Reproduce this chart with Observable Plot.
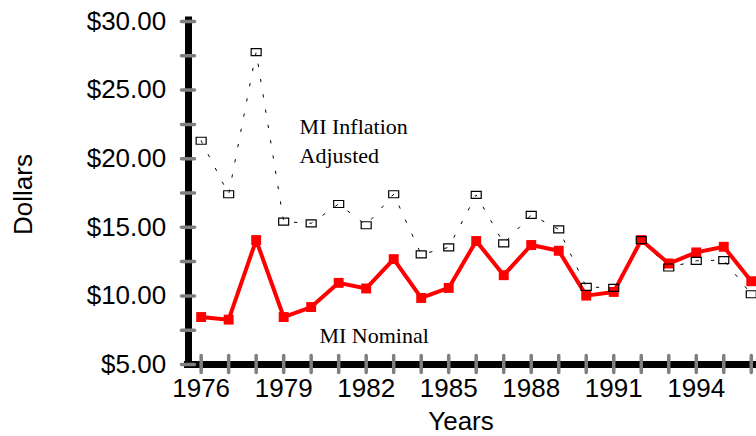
<!DOCTYPE html>
<html>
<head>
<meta charset="utf-8">
<script src="https://cdn.jsdelivr.net/npm/d3@7"></script>
<script src="https://cdn.jsdelivr.net/npm/@observablehq/plot@0.6"></script>
<style>
  html, body { margin: 0; padding: 0; background: #fff; }
  #chart svg { display: block; }
</style>
</head>
<body>
<div id="chart"></div>
<script>
// ---- data ----
const years = [1976, 1977, 1978, 1979, 1980, 1981, 1982, 1983, 1984, 1985, 1986,
               1987, 1988, 1989, 1990, 1991, 1992, 1993, 1994, 1995, 1996];
const nominal = [8.46, 8.27, 14.07, 8.46, 9.19, 10.95, 10.54, 12.68, 9.85, 10.58, 14.0,
                 11.51, 13.71, 13.29, 10.02, 10.29, 14.07, 12.36, 13.17, 13.58, 11.07];
const adjusted = [21.31, 17.41, 27.77, 15.41, 15.29, 16.7, 15.15, 17.41, 13.02, 13.54, 17.36,
                  13.83, 15.9, 14.85, 10.66, 10.58, 14.07, 12.07, 12.56, 12.61, 10.12];
const xTickLabels = [1976, 1979, 1982, 1985, 1988, 1991, 1994];
const yTickLabels = [5, 10, 15, 20, 25, 30];
const yMinorTicks = [5, 7.5, 10, 12.5, 15, 17.5, 20, 22.5, 25, 27.5, 30];
const seriesNames = ["MI Nominal", "MI Inflation", "Adjusted"];
const axisTitles = {x: "Years", y: "Dollars"};

// ---- build table ----
const rows = years.map((year, i) => ({year, nominal: nominal[i], adjusted: adjusted[i]}));

const xDomain = [1975.54, 1996.19];
const yDomain = [5, 30];
const gray = "#7f7f7f";
const serif = "'Times New Roman', 'Liberation Serif', serif";

const openRect = {
  draw(context) { context.rect(-5, -3.5, 10, 7); }
};

const chart = Plot.plot({
  width: 756,
  height: 436,
  marginLeft: 188,
  marginRight: 0,
  marginTop: 21,
  marginBottom: 72,
  style: {fontFamily: "Arial, 'Liberation Sans', sans-serif", fontSize: "26px", background: "#fff", overflow: "hidden"},
  x: {domain: xDomain, label: null},
  y: {domain: yDomain, label: null},
  marks: [
    // axis lines
    Plot.ruleX([xDomain[0]], {stroke: "#000", strokeWidth: 7, strokeLinecap: "square", insetTop: -1}),
    Plot.ruleY([yDomain[0]], {stroke: "#000", strokeWidth: 7, insetLeft: -4}),
    // gray tick marks
    Plot.axisY({ticks: yMinorTicks, tickSize: 13, dx: 6.5, fill: "none", stroke: gray, strokeWidth: 3.5, strokeLinecap: "round", label: null}),
    Plot.axisX({ticks: years, tickSize: 17, dy: -8.5, fill: "none", stroke: gray, strokeWidth: 3.5, strokeLinecap: "round", label: null}),
    // tick labels
    Plot.axisY({ticks: yTickLabels, tickSize: 0, tickPadding: 22.3, tickFormat: d => "$" + d.toFixed(2), fontSize: 26, fill: "#000", label: null}),
    Plot.axisX({ticks: xTickLabels, tickSize: 0, tickPadding: 13.7, tickFormat: d => String(d), fontSize: 26, fill: "#000", label: null}),
    // axis titles
    Plot.text([axisTitles.x], {frameAnchor: "bottom", textAnchor: "middle", dx: -11.5, dy: 47.5, lineAnchor: "top", fontSize: 26, fill: "#000"}),
    Plot.text([axisTitles.y], {frameAnchor: "left", textAnchor: "middle", dx: -165, dy: 1.5, rotate: -90, fontSize: 26, fill: "#000"}),
    // inflation adjusted series
    Plot.line(rows, {x: "year", y: "adjusted", stroke: "#000", strokeWidth: 1, strokeDasharray: "2.5,13"}),
    // nominal series
    Plot.line(rows, {x: "year", y: "nominal", stroke: "#ff0000", strokeWidth: 4, strokeLinejoin: "miter"}),
    Plot.dot(rows, {x: "year", y: "nominal", symbol: "square", r: 5.6, fill: "#ff0000", stroke: "none"}),
    Plot.dot(rows, {x: "year", y: "adjusted", symbol: openRect, fill: "none", stroke: "#000", strokeWidth: 1.2}),
    // series labels
    Plot.text([seriesNames[1]], {x: 1979.58, y: 21.81, textAnchor: "start", lineAnchor: "bottom", fontFamily: serif, fontSize: 22, fill: "#000"}),
    Plot.text([seriesNames[2]], {x: 1979.58, y: 19.67, textAnchor: "start", lineAnchor: "bottom", fontFamily: serif, fontSize: 22, fill: "#000"}),
    Plot.text([seriesNames[0]], {x: 1980.30, y: 6.55, textAnchor: "start", lineAnchor: "bottom", fontFamily: serif, fontSize: 22, fill: "#000"})
  ]
});
document.getElementById("chart").appendChild(chart);
</script>
</body>
</html>
